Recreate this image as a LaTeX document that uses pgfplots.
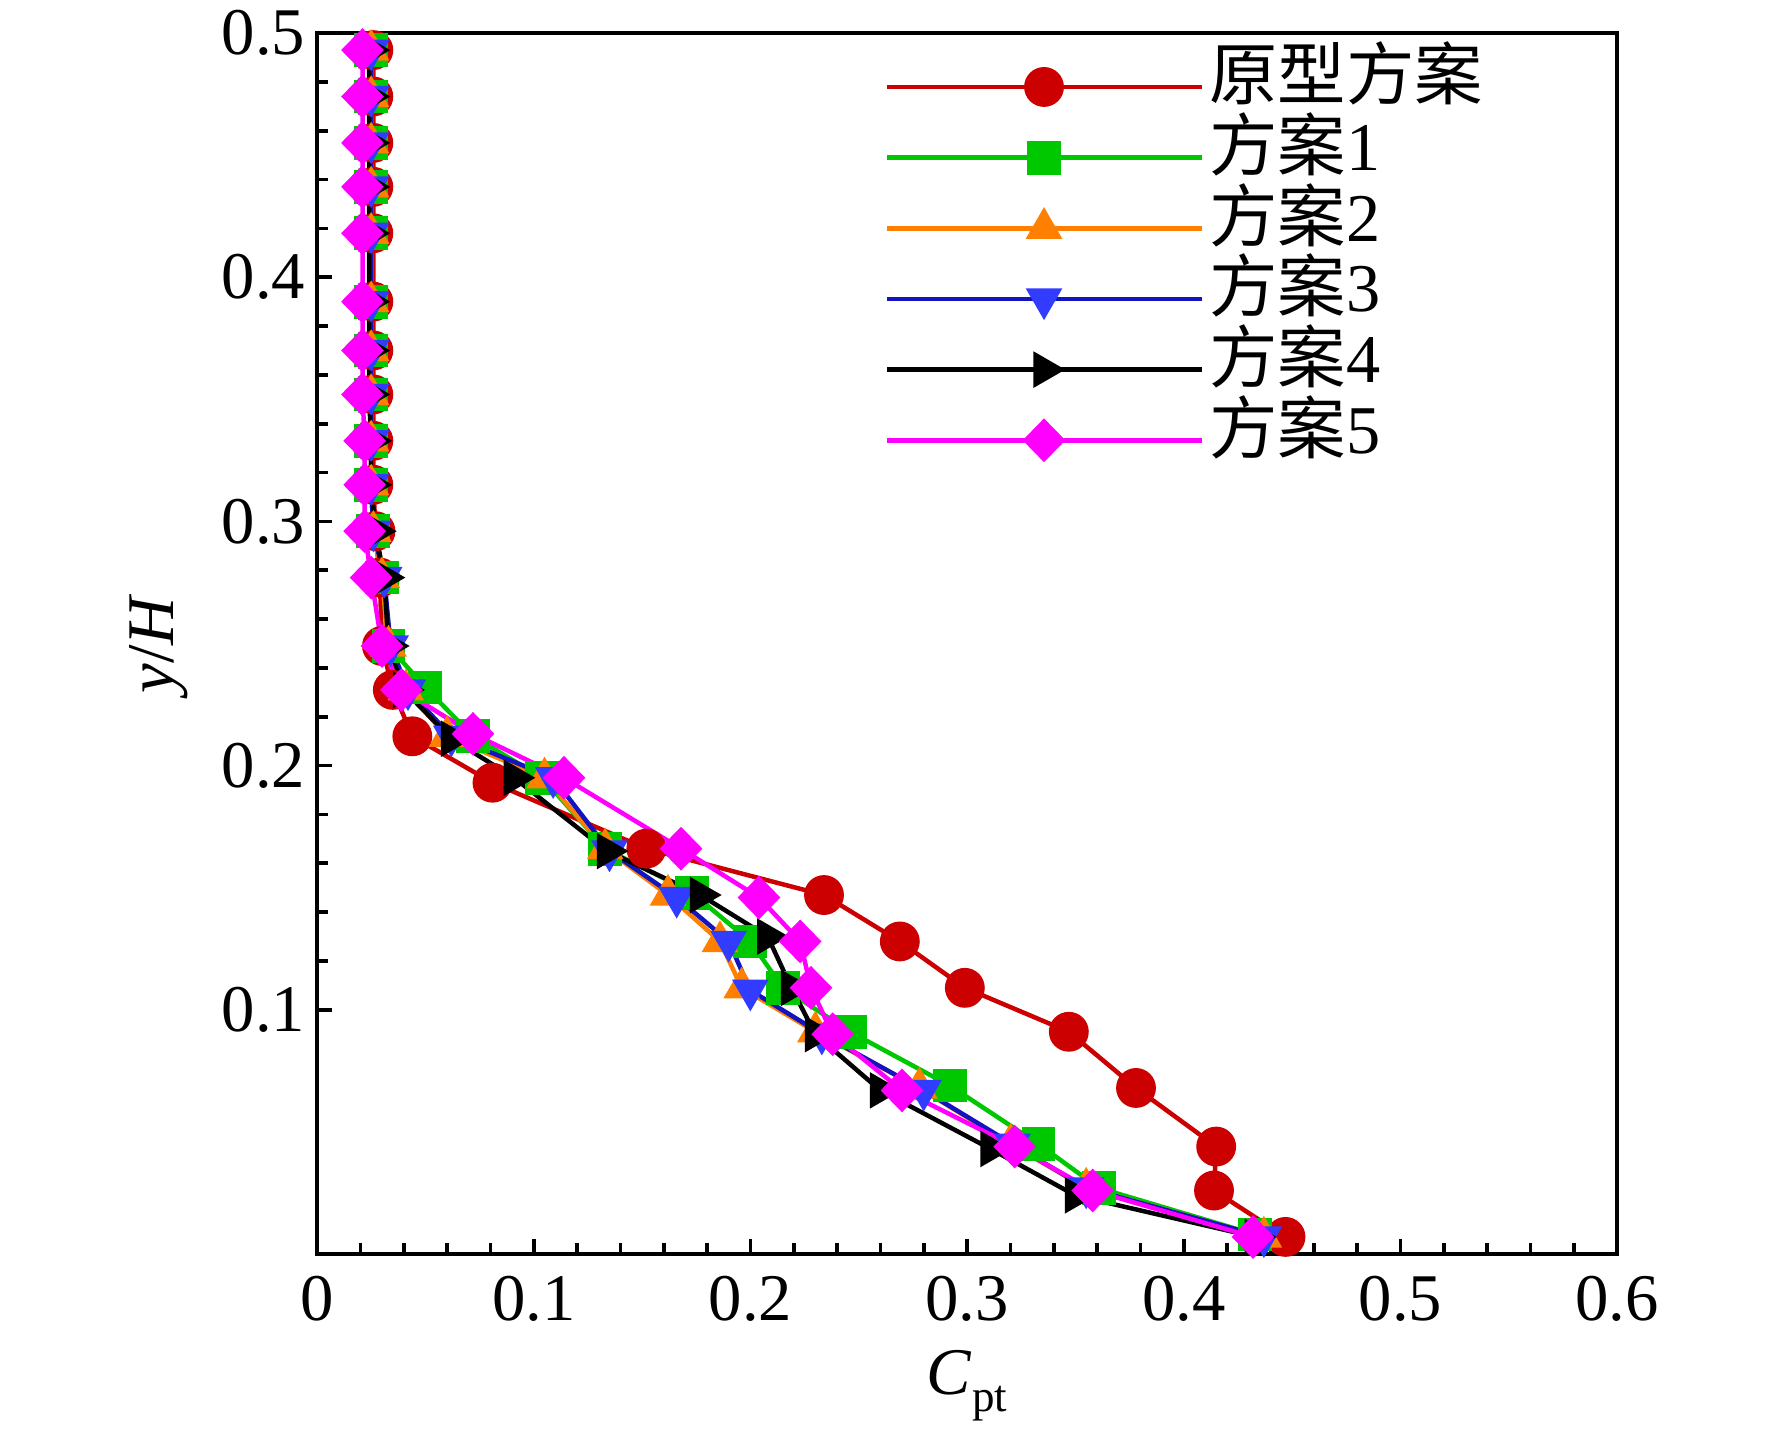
\documentclass[border=0pt]{standalone}
\usepackage{pgfplots}
\pgfplotsset{compat=1.18}
\usepackage{fontspec}
\setmainfont{Liberation Serif}
\newfontfamily\cjk{Noto Sans CJK SC}
\definecolor{cred}{RGB}{204,0,0}
\definecolor{cgreen}{RGB}{0,200,0}
\definecolor{corange}{RGB}{255,128,0}
\definecolor{cblue}{RGB}{20,20,190}
\definecolor{cbluem}{RGB}{50,60,255}
\definecolor{cmag}{RGB}{255,0,255}
\begin{document}
\begin{tikzpicture}
\useasboundingbox (-95.1pt,-57.6pt) rectangle (436.5pt,376.2pt);
\begin{axis}[
  scale only axis,
  width=390pt, height=366.3pt,
  xmin=0, xmax=0.6, ymin=0, ymax=0.5,
  xtick={0,0.1,...,0.6}, ytick={0.1,0.2,...,0.5},
  minor x tick num=4, minor y tick num=4,
  xticklabels={0,0.1,0.2,0.3,0.4,0.5,0.6},
  yticklabels={0.1,0.2,0.3,0.4,0.5},
  tick align=inside, xtick pos=bottom, ytick pos=left,
  major tick length=4.5pt, minor tick length=3.3pt,
  every tick/.style={black, line width=1.1pt},
  axis line style={line width=1.2pt},
  font=\fontsize{20}{23}\selectfont,
  /pgf/number format/assume math mode=true,
  xticklabel style={yshift=-3pt},
  xlabel={\textit{C}\raisebox{-0.55ex}{\fontsize{13.5}{14}\selectfont pt}},
  ylabel={\textit{y}/\textit{H}},
  xlabel style={at={(axis description cs:0.5,-0.108)}, anchor=center},
  ylabel style={at={(axis description cs:-0.122,0.5)}, anchor=center, rotate=0},
  legend cell align=left,
  legend style={draw=none, fill=none, at={(rel axis cs:0.4365,0.9853)}, anchor=north west,
    inner sep=0pt, row sep=0pt,
    font=\fontsize{20.5}{23}\selectfont,
    nodes={inner sep=1.5pt, text height=13pt, text depth=5.2pt}},
  legend image code/.code={\draw[mark repeat=2,mark phase=2] plot coordinates {(0pt,0pt) (47pt,0pt) (94.5pt,0pt)};},
  every axis plot/.append style={line width=1.35pt},
]
% 原型方案
\addplot[cred, mark=*, mark size=5.3pt, mark options={fill=cred, draw=cred}] coordinates {
(0.026,0.493)(0.026,0.474)(0.026,0.455)(0.026,0.437)(0.026,0.418)(0.026,0.390)(0.026,0.370)(0.026,0.352)(0.026,0.333)(0.026,0.315)(0.027,0.296)(0.029,0.277)(0.030,0.249)(0.035,0.231)(0.044,0.212)(0.081,0.193)(0.152,0.166)(0.234,0.147)(0.269,0.128)(0.299,0.109)(0.347,0.091)(0.378,0.068)(0.415,0.044)(0.414,0.026)(0.447,0.007)};
\addlegendentry{\cjk 原型方案}
% 方案1
\addplot[cgreen, mark=square*, mark size=4.4pt, mark options={fill=cgreen, draw=cgreen}] coordinates {
(0.025,0.493)(0.025,0.474)(0.025,0.455)(0.025,0.437)(0.025,0.418)(0.025,0.390)(0.025,0.370)(0.025,0.352)(0.025,0.333)(0.025,0.315)(0.026,0.296)(0.030,0.277)(0.033,0.249)(0.050,0.232)(0.072,0.212)(0.104,0.195)(0.133,0.166)(0.173,0.148)(0.200,0.128)(0.215,0.109)(0.246,0.091)(0.292,0.069)(0.333,0.045)(0.361,0.027)(0.433,0.008)};
\addlegendentry{{\cjk 方案}1}
% 方案2
\addplot[corange, mark=triangle*, mark size=5pt, mark options={fill=corange, draw=corange}] coordinates {
(0.025,0.493)(0.025,0.474)(0.025,0.455)(0.025,0.437)(0.025,0.418)(0.025,0.390)(0.025,0.370)(0.025,0.352)(0.025,0.333)(0.025,0.315)(0.026,0.296)(0.030,0.277)(0.033,0.249)(0.041,0.231)(0.060,0.212)(0.105,0.195)(0.133,0.166)(0.162,0.147)(0.186,0.128)(0.196,0.109)(0.230,0.091)(0.278,0.068)(0.320,0.045)(0.355,0.027)(0.437,0.007)};
\addlegendentry{{\cjk 方案}2}
% 方案3
\addplot[cblue, mark=triangle*, mark size=5pt, mark options={fill=cbluem, draw=cbluem, rotate=180}] coordinates {
(0.025,0.493)(0.025,0.474)(0.025,0.455)(0.025,0.437)(0.025,0.418)(0.025,0.390)(0.025,0.370)(0.025,0.352)(0.025,0.333)(0.025,0.315)(0.026,0.296)(0.031,0.277)(0.034,0.249)(0.042,0.231)(0.062,0.212)(0.109,0.195)(0.135,0.165)(0.166,0.146)(0.190,0.128)(0.200,0.108)(0.233,0.090)(0.280,0.067)(0.321,0.045)(0.355,0.027)(0.437,0.007)};
\addlegendentry{{\cjk 方案}3}
% 方案4
\addplot[black, mark=triangle*, mark size=5pt, mark options={fill=black, draw=black, rotate=-90}] coordinates {
(0.024,0.493)(0.024,0.474)(0.024,0.455)(0.024,0.437)(0.024,0.418)(0.024,0.390)(0.024,0.370)(0.024,0.352)(0.025,0.333)(0.025,0.315)(0.027,0.296)(0.031,0.277)(0.033,0.249)(0.040,0.231)(0.062,0.211)(0.091,0.195)(0.134,0.165)(0.177,0.147)(0.208,0.130)(0.219,0.109)(0.230,0.090)(0.260,0.067)(0.311,0.043)(0.350,0.024)(0.433,0.007)};
\addlegendentry{{\cjk 方案}4}
% 方案5
\addplot[cmag, mark=diamond*, mark size=5.6pt, mark options={fill=cmag, draw=cmag, xscale=1.3}] coordinates {
(0.021,0.493)(0.021,0.474)(0.021,0.455)(0.021,0.437)(0.021,0.418)(0.021,0.390)(0.021,0.370)(0.021,0.352)(0.022,0.333)(0.022,0.315)(0.022,0.296)(0.025,0.277)(0.030,0.249)(0.039,0.231)(0.072,0.213)(0.114,0.195)(0.168,0.166)(0.204,0.146)(0.223,0.128)(0.228,0.109)(0.238,0.090)(0.270,0.067)(0.322,0.044)(0.358,0.026)(0.432,0.007)};
\addlegendentry{{\cjk 方案}5}
\end{axis}
\end{tikzpicture}
\end{document}
